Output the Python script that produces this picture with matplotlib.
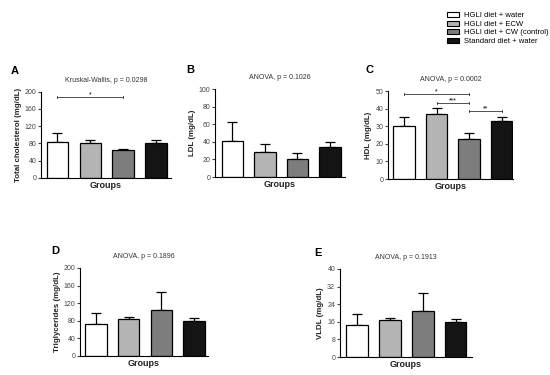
import matplotlib
matplotlib.use('Agg')
from matplotlib import pyplot as plt
from matplotlib.patches import Patch

plt.rcParams['font.family'] = ['Liberation Sans', 'DejaVu Sans']

groups = ['HGLI diet + water', 'HGLI diet + ECW', 'HGLI diet + CW (control)',
          'Standard diet + water']
colors = ['#ffffff', '#b4b4b4', '#7d7d7d', '#141414']

chol_mean = [83, 80, 65, 81]
chol_sd = [21, 7, 3, 7]
ldl_mean = [41, 28.5, 20, 34]
ldl_sd = [22, 9, 7, 6]
hdl_mean = [30.3, 36.7, 22.7, 32.8]
hdl_sd = [4.9, 3.5, 3.3, 2.6]
tg_mean = [72.5, 84, 105, 80]
tg_sd = [25.5, 4, 40, 6]
vldl_mean = [14.5, 16.8, 21, 16]
vldl_sd = [5, 0.9, 8, 1.1]

W, H = 550, 375


def make_axes(x0, x1, ytop, ybot):
    return fig.add_axes([x0 / W, 1 - ybot / H, (x1 - x0) / W, (ybot - ytop) / H])


def draw_panel(ax, means, sds, ymax, step, ylabel, title, xlim):
    x = range(len(means))
    ax.bar(x, means, width=0.66, color=colors, edgecolor='black', linewidth=0.9, zorder=2)
    ax.errorbar(x, means, yerr=[[0] * len(sds), sds], fmt='none', ecolor='black',
                elinewidth=0.9, capsize=3.5, capthick=0.9, zorder=1)
    ax.set_xlim(*xlim)
    ax.set_ylim(0, ymax)
    ax.set_yticks(range(0, ymax + 1, step))
    ax.set_xticks([])
    for s in ['top', 'right']:
        ax.spines[s].set_visible(False)
    ax.spines['left'].set_linewidth(0.8)
    ax.spines['bottom'].set_linewidth(0.8)
    ax.tick_params(axis='y', labelsize=5, length=2.5, width=0.8, pad=1, colors='#444444')
    ax.set_ylabel(ylabel, fontsize=5.7, fontweight='bold', labelpad=2, color='#222222')
    ax.set_xlabel('Groups', fontsize=6.5, fontweight='bold', labelpad=2, color='#222222')
    ax.set_title(title, fontsize=5, pad=7, color='#333333')


def letter(px, py, s):
    fig.text(px / W, 1 - py / H, s, fontsize=8, fontweight='bold', ha='left', va='center')


def sig(ax, x0, x1, y, label, ymax):
    t = ymax * 0.012
    ax.plot([x0, x1], [y, y], color='#333333', lw=0.6)
    ax.plot([x0, x0], [y - t, y + t], color='#333333', lw=0.6)
    ax.plot([x1, x1], [y - t, y + t], color='#333333', lw=0.6)
    ax.text((x0 + x1) / 2, y - ymax * 0.015, label, ha='center', va='bottom', fontsize=5)


fig = plt.figure(figsize=(5.5, 3.75), dpi=100)

ax_a = make_axes(41, 171, 91.7, 178)
draw_panel(ax_a, chol_mean, chol_sd, 200, 40, 'Total cholesterol (mg/dL)',
           'Kruskal-Wallis, p = 0.0298', (-0.5, 3.45))
sig(ax_a, 0, 2, 187, '*', 200)
letter(11, 71, 'A')

ax_b = make_axes(215, 345, 89, 177)
draw_panel(ax_b, ldl_mean, ldl_sd, 100, 20, 'LDL (mg/dL)',
           'ANOVA, p = 0.1026', (-0.53, 3.46))
letter(186, 70, 'B')

ax_c = make_axes(388, 513, 91, 179)
draw_panel(ax_c, hdl_mean, hdl_sd, 50, 10, 'HDL (mg/dL)',
           'ANOVA, p = 0.0002', (-0.49, 3.35))
sig(ax_c, 0, 2, 48.1, '*', 50)
sig(ax_c, 1, 2, 43.2, '***', 50)
sig(ax_c, 2, 3, 38.6, '**', 50)
letter(366, 70, 'C')

ax_d = make_axes(80, 208, 268, 356)
draw_panel(ax_d, tg_mean, tg_sd, 200, 40, 'Triglycerides (mg/dL)',
           'ANOVA, p = 0.1896', (-0.49, 3.43))
letter(51, 251, 'D')

ax_e = make_axes(340, 472, 269, 357)
draw_panel(ax_e, vldl_mean, vldl_sd, 40, 8, 'VLDL (mg/dL)',
           'ANOVA, p = 0.1913', (-0.52, 3.5))
letter(314, 253, 'E')

handles = [Patch(facecolor=c, edgecolor='black', linewidth=0.8) for c in colors]
fig.legend(handles, groups, loc='upper left', bbox_to_anchor=(444 / W, 1 - 9 / H),
           frameon=False, fontsize=5.5, handlelength=1.6, handleheight=0.7,
           handletextpad=0.6, labelspacing=0.15, borderaxespad=0)

fig.savefig('out.png', dpi=100)
